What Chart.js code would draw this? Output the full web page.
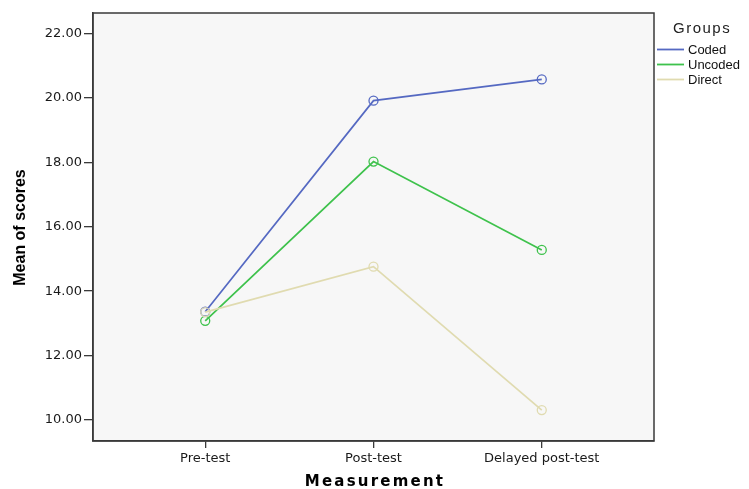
<!DOCTYPE html>
<html><head><meta charset="utf-8">
<script src="https://cdn.jsdelivr.net/npm/chart.js@4"></script>
<style>html,body{margin:0;padding:0;background:#fff;}#wrap{width:749px;height:489px;}</style>
</head><body><div id="wrap"><canvas id="c" width="749" height="489"></canvas></div>
<script>
const categories = ["Pre-test", "Post-test", "Delayed post-test"];
const coded = [13.36, 19.91, 20.57];
const uncoded = [13.08, 18.02, 15.28];
const direct = [13.35, 14.76, 10.31];
const seriesNames = ["Coded", "Uncoded", "Direct"];
const seriesColors = ["#5569c2", "#3ec24c", "#e0dbb0"];
const yTicks = [10, 12, 14, 16, 18, 20, 22];

function pts(arr){ return arr.map((v,i)=>({x:i,y:v})); }
const datasets = [coded, uncoded, direct].map((arr,i)=>({
  label: seriesNames[i], data: pts(arr), borderColor: seriesColors[i],
  backgroundColor: 'rgba(0,0,0,0)', borderWidth: 1.7, pointRadius: 4.5,
  pointBorderWidth: 1.3, pointBorderColor: seriesColors[i], pointBackgroundColor:'rgba(0,0,0,0)',
  tension: 0, fill: false
}));
datasets.reverse();

const deco = {
  id: 'deco',
  beforeDraw(chart){
    const {ctx, chartArea:a} = chart;
    ctx.save();
    ctx.fillStyle = '#f7f7f7';
    ctx.fillRect(a.left, a.top, a.right-a.left, a.bottom-a.top);
    ctx.restore();
  },
  afterDraw(chart){
    const {ctx, chartArea:a} = chart;
    ctx.save();
    ctx.strokeStyle = '#3a3a3a'; ctx.lineWidth = 1.5;
    ctx.strokeRect(a.left, a.top, a.right-a.left, a.bottom-a.top);
    ctx.fillStyle = '#000';
    ctx.font = 'bold 15px "DejaVu Sans", sans-serif';
    ctx.textAlign = 'center'; ctx.textBaseline = 'middle';
    try { ctx.letterSpacing = '2.2px'; } catch(e){}
    ctx.fillText('Measurement', 375, 482);
    try { ctx.letterSpacing = '0px'; } catch(e){}
    ctx.save();
    ctx.translate(21, 227.5); ctx.rotate(-Math.PI/2);
    ctx.font = 'bold 16px "Liberation Sans", Arial, sans-serif';
    ctx.fillText('Mean of scores', 0, 0);
    ctx.restore();
    ctx.fillStyle = '#222';
    ctx.font = '15px "Liberation Sans", Arial, sans-serif';
    ctx.textAlign = 'left';
    try { ctx.letterSpacing = '1.5px'; } catch(e){}
    ctx.fillText('Groups', 673, 29);
    try { ctx.letterSpacing = '0px'; } catch(e){}
    ctx.font = '13px "Liberation Sans", Arial, sans-serif';
    seriesNames.forEach((n,i)=>{
      const y = 49.5 + i*15;
      ctx.strokeStyle = seriesColors[i]; ctx.lineWidth = 1.8;
      ctx.beginPath(); ctx.moveTo(657, y); ctx.lineTo(684, y); ctx.stroke();
      ctx.fillStyle = '#111';
      ctx.fillText(n, 688, y+0.5);
    });
    ctx.restore();
  }
};

new Chart(document.getElementById('c'), {
  type: 'line',
  data: { datasets },
  options: {
    responsive: false, animation: false, devicePixelRatio: 1,
    layout: { padding: { top: 13, right: 95, left: 0, bottom: 0 } },
    plugins: { legend: { display: false }, tooltip: { enabled: false } },
    scales: {
      x: {
        type: 'linear', min: -0.667, max: 2.667,
        afterBuildTicks(s){ s.ticks = [0,1,2].map(v=>({value:v})); },
        afterFit(s){ s.height = 48; },
        ticks: { callback: v => categories[v], color: '#1a1a1a', padding: 3,
          font: { family: '"DejaVu Sans", sans-serif', size: 13 }, maxRotation: 0 },
        grid: { drawOnChartArea: false, drawTicks: true, tickLength: 7, color: '#3a3a3a', lineWidth: 1.3 },
        border: { display: true, color: '#3a3a3a', width: 1.5 }
      },
      y: {
        type: 'linear', min: 9.35, max: 22.63,
        afterBuildTicks(s){ s.ticks = yTicks.map(v=>({value:v})); },
        afterFit(s){ s.width = 93; },
        ticks: { callback: v => v.toFixed(2), color: '#1a1a1a', padding: 2,
          font: { family: '"DejaVu Sans", sans-serif', size: 13 } },
        grid: { drawOnChartArea: false, drawTicks: true, tickLength: 9, color: '#3a3a3a', lineWidth: 1.3 },
        border: { display: true, color: '#3a3a3a', width: 1.5 }
      }
    }
  },
  plugins: [deco]
});
</script></body></html>
